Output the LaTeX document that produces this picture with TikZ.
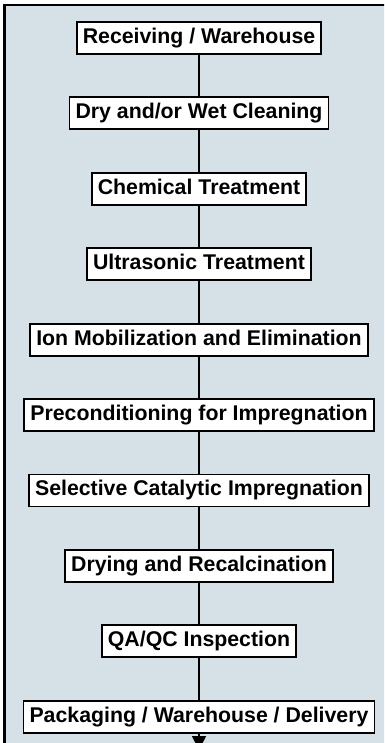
\documentclass[tikz,border=0pt]{standalone}
\usepackage{fontspec}
\setmainfont{Liberation Sans}
\usetikzlibrary{arrows.meta}
\definecolor{panel}{HTML}{D6E0E7}
\tikzset{
  stepbox/.style={draw=black, line width=1.8pt, fill=white, inner xsep=6pt, inner ysep=6pt,
    text height=15.5pt, text depth=4.5pt,
    font=\fontsize{21.3}{25}\selectfont\bfseries},
  link/.style={draw=black, line width=1.6pt}
}
\begin{document}
\begin{tikzpicture}[x=1pt,y=-1pt]
\useasboundingbox (0,0) rectangle (384,743);
\clip (0,0) rectangle (384,743);
\fill[panel] (4.5,5) rectangle (400,760);
\draw[line width=2.6pt] (4.5,760) -- (4.5,5) -- (400,5);
\node[stepbox] (b1) at (199,38) {Receiving / Warehouse};
\node[stepbox] (b2) at (199,113.4) {Dry and/or Wet Cleaning};
\node[stepbox] (b3) at (199,188.8) {Chemical Treatment};
\node[stepbox] (b4) at (199,264.2) {Ultrasonic Treatment};
\node[stepbox] (b5) at (199,339.6) {Ion Mobilization and Elimination};
\node[stepbox] (b6) at (199,415) {Preconditioning for Impregnation};
\node[stepbox] (b7) at (199,490.4) {Selective Catalytic Impregnation};
\node[stepbox] (b8) at (199,565.8) {Drying and Recalcination};
\node[stepbox] (b9) at (199,641.2) {QA/QC Inspection};
\node[stepbox] (b10) at (199,716.6) {Packaging / Warehouse / Delivery};
\coordinate (end) at (199,750);
\foreach \a/\b in {b1/b2,b2/b3,b3/b4,b4/b5,b5/b6,b6/b7,b7/b8,b8/b9,b9/b10}
  \draw[link] (\a.south) -- (\b.north);
\draw[link, -{Triangle[width=14pt,length=14pt]}] (b10.south) -- (end);
\end{tikzpicture}
\end{document}
